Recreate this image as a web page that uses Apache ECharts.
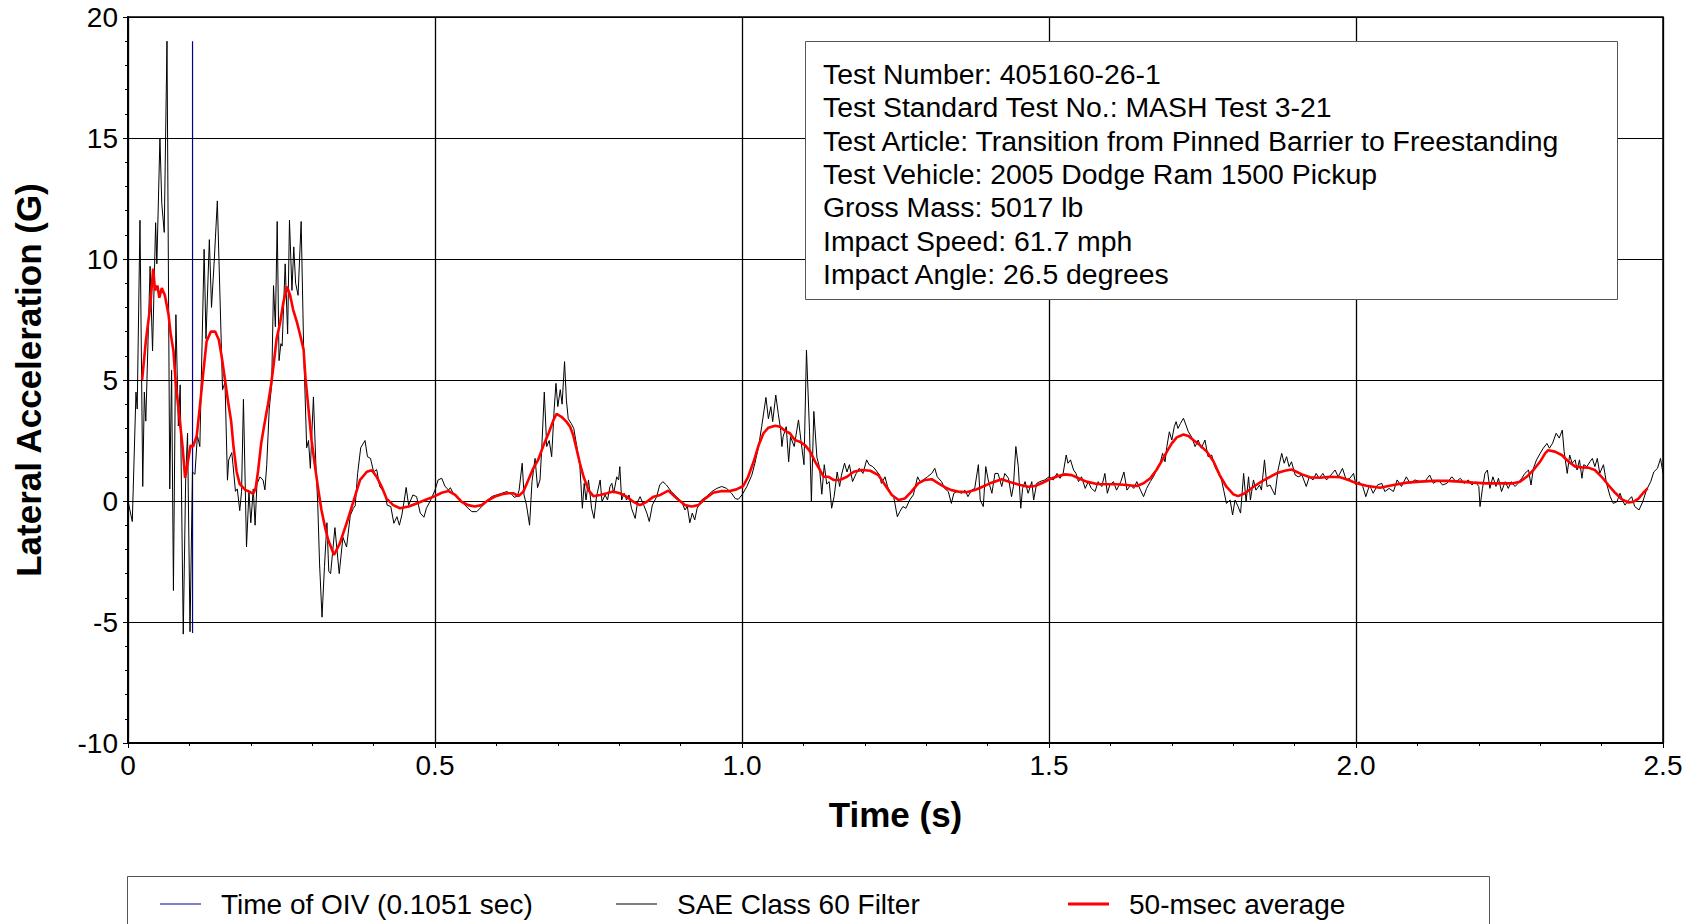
<!DOCTYPE html>
<html>
<head>
<meta charset="utf-8">
<title>Lateral Acceleration</title>
<script src="https://cdn.jsdelivr.net/npm/echarts@6/dist/echarts.min.js"></script>
<style>
  html, body { margin: 0; padding: 0; background: #fff; }
  #chart { width: 1692px; height: 924px; }
</style>
</head>
<body>
<div id="chart"></div>
<script>
const FONT = '"Liberation Sans", Arial, Helvetica, sans-serif'

const xTickLabels = ['0', '0.5', '1.0', '1.5', '2.0', '2.5']

const infoLines = [
  'Test Number: 405160-26-1',
  'Test Standard Test No.: MASH Test 3-21',
  'Test Article: Transition from Pinned Barrier to Freestanding',
  'Test Vehicle: 2005 Dodge Ram 1500 Pickup',
  'Gross Mass: 5017 lb',
  'Impact Speed: 61.7 mph',
  'Impact Angle: 26.5 degrees',
]

const seriesNames = ['Time of OIV (0.1051 sec)', 'SAE Class 60 Filter', '50-msec average']

// time of OIV marker, drawn from the lowest to the highest filtered value
const oivTime = 0.1051
const oivSpan = [-5.45, 19.0]

// SAE class 60 filtered lateral acceleration [time s, G]
const sae60 = [
  [0.000, 0.0], [0.007, -0.85], [0.013, 4.5], [0.015, 3.8], [0.0195, 11.6], [0.024, 0.6],
  [0.0266, 4.5], [0.029, 3.3], [0.036, 9.7], [0.040, 6.2], [0.045, 11.5], [0.047, 9.8],
  [0.052, 15.0], [0.055, 12.3], [0.059, 11.1], [0.0635, 19.0], [0.068, 0.5], [0.071, 5.4],
  [0.074, -3.7], [0.078, 7.7], [0.082, 3.1], [0.085, 4.8], [0.090, -5.5], [0.094, 1.0],
  [0.097, 2.8], [0.101, -5.4], [0.105, 1.2], [0.109, 1.1], [0.113, 2.7], [0.117, 2.25],
  [0.124, 10.4], [0.127, 6.7], [0.1325, 10.8], [0.136, 8.0], [0.1406, 10.0], [0.1455, 12.4],
  [0.154, 4.6], [0.158, 4.9], [0.162, 0.86], [0.164, 1.7], [0.169, 2.0], [0.171, 1.5],
  [0.175, 0.4], [0.178, 0.5], [0.182, -0.4], [0.185, 0.4], [0.188, 4.2], [0.193, -1.9],
  [0.197, 0.4], [0.200, -0.9], [0.204, 0.5], [0.207, -1.0], [0.210, 0.7], [0.215, 1.0],
  [0.220, 0.86], [0.223, 0.46], [0.226, 1.5], [0.230, 3.8], [0.234, 4.8], [0.237, 8.9],
  [0.240, 7.2], [0.243, 11.55], [0.246, 5.8], [0.249, 6.5], [0.251, 6.4], [0.256, 9.8],
  [0.260, 6.9], [0.263, 11.6], [0.267, 8.7], [0.270, 10.5], [0.273, 9.0], [0.277, 8.5],
  [0.282, 11.55], [0.286, 6.4], [0.291, 2.2], [0.294, 2.5], [0.297, 1.35], [0.302, 4.3],
  [0.306, 1.5], [0.309, -0.1], [0.312, -2.6], [0.316, -4.8], [0.320, -2.7], [0.324, -0.9],
  [0.327, -2.9], [0.330, -3.0], [0.337, -1.1], [0.344, -3.0], [0.350, -1.5], [0.356, -1.9],
  [0.362, -0.6], [0.367, -0.3], [0.370, -0.2], [0.374, 1.14], [0.379, 2.2], [0.386, 2.5],
  [0.390, 1.83], [0.395, 1.76], [0.400, 1.2], [0.405, 1.3], [0.410, 0.6], [0.419, 0.3],
  [0.422, -0.17], [0.428, -0.23], [0.433, -0.92], [0.438, -0.65], [0.442, -1.0], [0.446, -0.58],
  [0.450, 0.04], [0.453, 0.56], [0.457, -0.17], [0.464, 0.25], [0.470, 0.18], [0.476, -0.5],
  [0.482, -0.67], [0.486, -0.3], [0.493, 0.04], [0.500, 0.45], [0.505, 0.87], [0.511, 0.94],
  [0.516, 0.62], [0.522, 0.45], [0.525, 0.55], [0.531, 0.25], [0.538, 0.11], [0.546, -0.1],
  [0.554, -0.3], [0.560, -0.44], [0.568, -0.44], [0.576, -0.23], [0.584, -0.03], [0.592, 0.18],
  [0.600, 0.25], [0.609, 0.32], [0.617, 0.39], [0.625, 0.28], [0.629, 0.15], [0.634, 0.2],
  [0.637, 0.45], [0.642, 1.56], [0.645, 0.25], [0.649, -0.17], [0.654, -1.0], [0.658, 0.8],
  [0.663, 1.76], [0.667, 0.55], [0.671, 0.87], [0.674, 2.25], [0.678, 4.5], [0.682, 2.25],
  [0.686, 2.5], [0.690, 1.83], [0.694, 3.76], [0.697, 4.86], [0.700, 3.9], [0.704, 4.6],
  [0.707, 4.0], [0.711, 5.76], [0.714, 4.17], [0.717, 3.4], [0.722, 3.2], [0.726, 3.0],
  [0.731, 2.25], [0.736, 1.42], [0.740, -0.3], [0.743, 0.73], [0.746, 0.04], [0.750, 0.87],
  [0.755, -0.3], [0.759, -0.72], [0.763, 0.18], [0.769, 0.87], [0.772, -0.03], [0.777, 0.25],
  [0.781, 0.04], [0.785, 0.6], [0.788, 0.73], [0.791, 0.32], [0.796, 1.0], [0.799, 0.87],
  [0.801, 1.42], [0.804, 0.04], [0.808, 0.32], [0.812, 0.04], [0.816, 0.25], [0.820, -0.3],
  [0.826, -0.72], [0.830, -0.03], [0.834, 0.18], [0.840, -0.17], [0.845, -0.5], [0.849, -0.85],
  [0.854, -0.17], [0.861, 0.18], [0.866, 0.66], [0.871, 0.8], [0.877, 0.66], [0.885, 0.39],
  [0.893, 0.18], [0.902, -0.03], [0.907, -0.37], [0.911, -0.23], [0.915, -0.9], [0.919, -0.5],
  [0.923, -0.78], [0.927, -0.3], [0.934, 0.04], [0.942, 0.18], [0.951, 0.39], [0.959, 0.52],
  [0.967, 0.6], [0.975, 0.52], [0.983, 0.32], [0.989, 0.1], [0.994, 0.07], [1.000, 0.25],
  [1.008, 0.6], [1.016, 1.07], [1.021, 1.56], [1.027, 2.25], [1.032, 3.07], [1.036, 3.76],
  [1.039, 4.28], [1.043, 3.4], [1.047, 3.9], [1.050, 3.28], [1.055, 4.38], [1.059, 3.62],
  [1.063, 2.93], [1.065, 2.25], [1.067, 2.66], [1.072, 3.07], [1.076, 1.62], [1.079, 2.66],
  [1.085, 2.25], [1.092, 3.35], [1.096, 2.5], [1.101, 1.5], [1.105, 6.24], [1.110, 2.86],
  [1.113, -0.03], [1.117, 3.7], [1.122, 1.8], [1.126, 1.42], [1.130, 0.28], [1.134, 1.5],
  [1.138, 0.7], [1.142, 0.8], [1.146, -0.3], [1.150, 0.18], [1.155, 1.2], [1.159, 0.6],
  [1.162, 1.07], [1.167, 1.56], [1.171, 1.2], [1.175, 1.5], [1.180, 0.8], [1.186, 1.14],
  [1.191, 1.35], [1.197, 1.14], [1.203, 1.7], [1.207, 1.5], [1.213, 1.42], [1.218, 1.28],
  [1.224, 1.07], [1.227, 0.73], [1.233, 1.0], [1.237, 0.6], [1.242, 0.32], [1.247, 0.18],
  [1.253, -0.65], [1.257, -0.44], [1.262, -0.23], [1.267, -0.3], [1.273, 0.04], [1.279, 0.25],
  [1.286, 1.0], [1.290, 0.8], [1.295, 0.87], [1.302, 1.0], [1.309, 1.14], [1.314, 1.35],
  [1.318, 1.0], [1.325, 0.8], [1.330, 0.52], [1.336, 0.39], [1.341, -0.1], [1.345, 0.32],
  [1.350, 0.39], [1.358, 0.32], [1.363, 0.45], [1.368, 0.18], [1.374, 0.45], [1.379, 0.52],
  [1.385, 1.5], [1.388, 0.04], [1.393, -0.23], [1.397, 1.42], [1.401, 0.87], [1.407, 0.32],
  [1.412, 1.14], [1.417, 1.14], [1.423, 0.6], [1.428, 1.14], [1.434, 0.94], [1.439, 0.18],
  [1.442, 0.6], [1.446, 2.25], [1.450, 1.42], [1.454, -0.3], [1.457, 0.52], [1.461, 0.8],
  [1.466, 0.32], [1.472, 0.8], [1.475, 0.04], [1.480, 0.73], [1.485, 0.8], [1.493, 0.87],
  [1.500, 1.0], [1.507, 0.87], [1.513, 1.14], [1.518, 0.94], [1.523, 1.14], [1.528, 1.9],
  [1.531, 1.56], [1.535, 1.7], [1.540, 1.28], [1.544, 1.14], [1.548, 0.8], [1.553, 1.0],
  [1.559, 0.52], [1.564, 0.8], [1.569, 0.52], [1.575, 0.39], [1.580, 0.8], [1.586, 0.6],
  [1.591, 1.14], [1.595, 0.32], [1.599, 0.66], [1.605, 0.8], [1.610, 0.45], [1.617, 0.8],
  [1.622, 1.2], [1.627, 0.45], [1.633, 0.66], [1.638, 0.52], [1.643, 0.8], [1.649, 0.45],
  [1.654, 0.18], [1.659, 0.52], [1.665, 0.8], [1.670, 1.0], [1.675, 1.28], [1.681, 1.56],
  [1.685, 1.97], [1.689, 1.62], [1.692, 2.25], [1.696, 2.86], [1.700, 2.52], [1.704, 3.07],
  [1.707, 3.28], [1.710, 3.0], [1.714, 3.2], [1.719, 3.42], [1.723, 3.14], [1.727, 2.86],
  [1.732, 2.66], [1.738, 2.25], [1.743, 2.52], [1.748, 2.18], [1.754, 2.52], [1.759, 1.83],
  [1.765, 1.9], [1.770, 1.42], [1.776, 1.14], [1.781, 0.87], [1.785, 0.39], [1.789, -0.1],
  [1.795, 0.04], [1.799, -0.58], [1.803, 0.04], [1.808, -0.23], [1.812, -0.5], [1.817, 1.14],
  [1.821, -0.03], [1.825, 1.0], [1.828, 0.04], [1.833, 0.87], [1.837, 0.45], [1.843, 0.66],
  [1.846, 0.45], [1.851, 1.7], [1.855, 0.6], [1.860, 0.66], [1.864, 0.45], [1.868, 0.25],
  [1.873, 1.28], [1.879, 1.97], [1.883, 1.56], [1.887, 1.83], [1.891, 1.42], [1.895, 1.62],
  [1.901, 1.07], [1.906, 1.0], [1.912, 1.07], [1.919, 0.6], [1.924, 1.0], [1.930, 0.87],
  [1.935, 1.14], [1.940, 0.94], [1.946, 1.14], [1.952, 0.87], [1.959, 1.07], [1.966, 1.28],
  [1.971, 1.0], [1.978, 1.35], [1.984, 0.87], [1.990, 0.94], [1.996, 1.14], [2.000, 0.66],
  [2.005, 0.8], [2.011, 0.6], [2.016, 0.18], [2.022, 0.66], [2.028, 0.32], [2.035, 0.66],
  [2.042, 0.73], [2.047, 0.39], [2.054, 0.52], [2.061, 0.39], [2.067, 0.87], [2.074, 0.6],
  [2.082, 1.0], [2.088, 0.73], [2.096, 0.87], [2.104, 0.8], [2.112, 0.8], [2.120, 1.07],
  [2.126, 0.73], [2.134, 0.87], [2.141, 0.66], [2.148, 0.73], [2.156, 1.0], [2.163, 0.8],
  [2.170, 0.94], [2.176, 0.73], [2.183, 0.87], [2.189, 0.66], [2.194, 0.8], [2.200, 0.6],
  [2.202, -0.23], [2.206, 0.52], [2.210, 1.14], [2.214, 1.28], [2.218, 0.52], [2.223, 1.0],
  [2.228, 0.6], [2.232, 0.94], [2.237, 0.39], [2.243, 0.8], [2.248, 0.52], [2.253, 0.8],
  [2.259, 0.6], [2.264, 0.73], [2.270, 0.94], [2.275, 1.14], [2.281, 1.28], [2.285, 0.66],
  [2.289, 1.35], [2.294, 1.7], [2.300, 1.97], [2.305, 2.18], [2.311, 2.38], [2.315, 2.18],
  [2.320, 2.38], [2.326, 2.8], [2.331, 2.6], [2.336, 2.93], [2.339, 2.04], [2.344, 1.14],
  [2.348, 1.9], [2.352, 1.56], [2.357, 1.7], [2.360, 1.28], [2.364, 1.7], [2.368, 0.94],
  [2.371, 1.5], [2.376, 1.42], [2.381, 1.62], [2.385, 1.76], [2.389, 1.42], [2.393, 1.76],
  [2.397, 1.14], [2.403, 1.5], [2.408, 0.73], [2.414, 0.18], [2.419, -0.1], [2.425, -0.03],
  [2.430, 0.32], [2.434, 0.04], [2.438, -0.17], [2.444, 0.04], [2.449, 0.18], [2.454, -0.23],
  [2.461, -0.37], [2.467, -0.03], [2.473, 0.45], [2.480, 0.8], [2.485, 1.2], [2.491, 1.35],
  [2.496, 1.76], [2.500, 1.14],
]

// 50 msec moving average [time s, G]
const avg50 = [
  [0.023, 5.0], [0.029, 6.6], [0.036, 8.0], [0.041, 9.6], [0.044, 8.7], [0.048, 8.9],
  [0.051, 8.4], [0.055, 8.8], [0.060, 8.5], [0.066, 7.7], [0.069, 7.0], [0.074, 6.2],
  [0.078, 4.8], [0.084, 3.4], [0.089, 2.2], [0.093, 0.95], [0.098, 1.7], [0.102, 2.3],
  [0.106, 2.25], [0.112, 2.7], [0.117, 3.9], [0.123, 5.4], [0.128, 6.6], [0.135, 7.0],
  [0.142, 7.0], [0.148, 6.65], [0.153, 5.9], [0.158, 5.0], [0.163, 4.1], [0.168, 3.3],
  [0.172, 2.2], [0.177, 1.2], [0.182, 0.7], [0.191, 0.46], [0.199, 0.37], [0.204, 0.3],
  [0.208, 0.54], [0.212, 1.27], [0.217, 2.4], [0.222, 3.15], [0.228, 4.0], [0.233, 4.8],
  [0.237, 5.6], [0.242, 6.7], [0.248, 7.4], [0.253, 8.2], [0.259, 8.86], [0.264, 8.5],
  [0.269, 7.9], [0.275, 7.4], [0.280, 6.9], [0.286, 6.25], [0.289, 5.1], [0.294, 3.8],
  [0.299, 2.5], [0.305, 1.35], [0.310, 0.46], [0.315, -0.36], [0.321, -1.1], [0.326, -1.6],
  [0.3355, -2.23], [0.345, -1.75], [0.356, -0.92], [0.367, -0.03], [0.378, 0.87], [0.389, 1.21],
  [0.397, 1.27], [0.405, 1.0], [0.413, 0.6], [0.421, 0.1], [0.432, -0.17], [0.443, -0.3],
  [0.457, -0.23], [0.470, -0.1], [0.484, 0.04], [0.498, 0.18], [0.511, 0.34], [0.522, 0.41],
  [0.533, 0.25], [0.543, -0.03], [0.554, -0.17], [0.565, -0.23], [0.576, -0.17], [0.587, 0.04],
  [0.598, 0.18], [0.609, 0.28], [0.619, 0.32], [0.628, 0.32], [0.636, 0.2], [0.644, 0.39],
  [0.652, 0.87], [0.660, 1.35], [0.668, 1.7], [0.676, 2.25], [0.685, 2.8], [0.693, 3.35],
  [0.698, 3.6], [0.706, 3.48], [0.714, 3.28], [0.720, 3.07], [0.725, 2.73], [0.731, 2.1],
  [0.736, 1.56], [0.742, 1.0], [0.750, 0.45], [0.758, 0.2], [0.769, 0.25], [0.780, 0.32],
  [0.790, 0.39], [0.801, 0.32], [0.812, 0.18], [0.823, -0.03], [0.834, -0.17], [0.845, -0.03],
  [0.856, 0.18], [0.867, 0.25], [0.880, 0.43], [0.894, 0.1], [0.907, -0.17], [0.918, -0.23],
  [0.929, -0.17], [0.940, 0.1], [0.953, 0.34], [0.967, 0.41], [0.980, 0.41], [0.991, 0.48],
  [1.002, 0.62], [1.010, 1.0], [1.019, 1.63], [1.027, 2.3], [1.035, 2.8], [1.043, 3.03],
  [1.054, 3.11], [1.062, 3.07], [1.070, 2.9], [1.078, 2.8], [1.086, 2.52], [1.094, 2.45],
  [1.103, 2.3], [1.111, 2.04], [1.119, 1.63], [1.127, 1.28], [1.133, 1.0], [1.141, 1.0],
  [1.149, 0.87], [1.160, 0.87], [1.171, 1.0], [1.182, 1.21], [1.195, 1.28], [1.209, 1.25],
  [1.222, 1.07], [1.233, 0.66], [1.244, 0.25], [1.255, 0.04], [1.265, 0.1], [1.276, 0.39],
  [1.287, 0.73], [1.298, 0.87], [1.309, 0.9], [1.320, 0.73], [1.331, 0.56], [1.341, 0.45],
  [1.352, 0.39], [1.366, 0.36], [1.379, 0.45], [1.388, 0.55], [1.404, 0.73], [1.423, 0.9],
  [1.439, 0.76], [1.453, 0.66], [1.466, 0.59], [1.477, 0.62], [1.488, 0.73], [1.501, 0.9],
  [1.515, 1.03], [1.526, 1.1], [1.537, 1.07], [1.548, 0.94], [1.561, 0.8], [1.578, 0.7],
  [1.594, 0.69], [1.610, 0.69], [1.626, 0.66], [1.643, 0.62], [1.654, 0.73], [1.665, 0.94],
  [1.675, 1.28], [1.683, 1.63], [1.692, 2.04], [1.700, 2.38], [1.708, 2.63], [1.719, 2.75],
  [1.727, 2.69], [1.735, 2.52], [1.746, 2.3], [1.757, 2.04], [1.768, 1.63], [1.778, 1.07],
  [1.789, 0.59], [1.800, 0.28], [1.808, 0.2], [1.819, 0.32], [1.833, 0.59], [1.846, 0.8],
  [1.860, 1.0], [1.873, 1.17], [1.884, 1.25], [1.895, 1.3], [1.903, 1.21], [1.912, 1.1],
  [1.925, 0.98], [1.941, 0.96], [1.958, 1.0], [1.974, 0.98], [1.988, 0.87], [2.001, 0.73],
  [2.017, 0.63], [2.039, 0.55], [2.061, 0.66], [2.083, 0.76], [2.104, 0.8], [2.126, 0.83],
  [2.148, 0.83], [2.170, 0.8], [2.191, 0.76], [2.213, 0.73], [2.235, 0.73], [2.256, 0.73],
  [2.267, 0.8], [2.278, 1.0], [2.289, 1.28], [2.300, 1.63], [2.308, 1.97], [2.313, 2.1],
  [2.324, 2.04], [2.335, 1.9], [2.346, 1.63], [2.357, 1.42], [2.368, 1.39], [2.378, 1.38],
  [2.389, 1.28], [2.400, 1.0], [2.411, 0.66], [2.422, 0.34], [2.433, 0.07], [2.444, -0.06],
  [2.452, -0.03], [2.460, 0.1], [2.468, 0.34], [2.475, 0.52],
]

const chart = echarts.init(document.getElementById('chart'), null, { renderer: 'svg' })

const axisText = { fontSize: 28, color: '#000', fontFamily: FONT }
const titleText = { fontSize: 35, fontWeight: 'bold', color: '#000', fontFamily: FONT }

function legendFor(name, left, color, height) {
  return {
    data: [name],
    left,
    top: 890,
    padding: 0,
    icon: 'rect',
    itemWidth: 41,
    itemHeight: height,
    itemStyle: { color },
    selectedMode: false,
    textStyle: { ...axisText, padding: [0, 0, 0, 15] },
  }
}

chart.setOption({
  backgroundColor: '#fff',
  animation: false,
  grid: {
    left: 128, top: 17, width: 1535, height: 726,
    show: true, borderColor: '#000', borderWidth: 1.5,
  },
  xAxis: {
    type: 'value',
    min: 0,
    max: 2.5,
    interval: 0.5,
    name: 'Time (s)',
    nameLocation: 'middle',
    nameGap: 54,
    nameTextStyle: titleText,
    axisLine: { onZero: false, lineStyle: { color: '#000', width: 2 } },
    axisTick: { show: true, length: 5, lineStyle: { color: '#000' } },
    minorTick: { show: true, splitNumber: 5, length: 3, lineStyle: { color: '#000' } },
    splitLine: { show: true, lineStyle: { color: '#000', width: 1.3 } },
    axisLabel: {
      ...axisText,
      margin: 8,
      showMinLabel: true,
      showMaxLabel: true,
      formatter: v => xTickLabels[Math.round(v / 0.5)],
    },
  },
  yAxis: {
    type: 'value',
    min: -10,
    max: 20,
    interval: 5,
    name: 'Lateral Acceleration (G)',
    nameLocation: 'middle',
    nameGap: 82,
    nameTextStyle: titleText,
    axisLine: { show: true, lineStyle: { color: '#000', width: 2 } },
    axisTick: { show: true, length: 5, lineStyle: { color: '#000' } },
    minorTick: { show: true, splitNumber: 5, length: 3, lineStyle: { color: '#000' } },
    splitLine: { show: true, lineStyle: { color: '#000', width: 1 } },
    axisLabel: { ...axisText, margin: 10 },
  },
  legend: [
    legendFor(seriesNames[0], 160, '#00008b', 1),
    legendFor(seriesNames[1], 616, '#000', 1),
    legendFor(seriesNames[2], 1068, '#ff0000', 3),
  ],
  graphic: [
    {
      type: 'rect',
      z: 1,
      shape: { x: 127.5, y: 876.5, width: 1362, height: 70 },
      style: { fill: '#fff', stroke: '#555', lineWidth: 1 },
    },
    {
      type: 'rect',
      z: 100,
      shape: { x: 805.5, y: 41.5, width: 812, height: 258 },
      style: { fill: '#fff', stroke: '#555', lineWidth: 1 },
    },
    {
      type: 'text',
      z: 101,
      x: 823,
      y: 57,
      style: {
        text: infoLines.join('\n'),
        fontSize: 28.4,
        fontFamily: FONT,
        lineHeight: 33.4,
        fill: '#000',
        verticalAlign: 'top',
      },
    },
  ],
  series: [
    {
      name: seriesNames[0],
      type: 'line',
      symbol: 'none',
      data: [[oivTime, oivSpan[0]], [oivTime, oivSpan[1]]],
      lineStyle: { color: '#00008b', width: 1.2 },
      itemStyle: { color: '#00008b' },
    },
    {
      name: seriesNames[1],
      type: 'line',
      symbol: 'none',
      data: sae60,
      lineStyle: { color: '#000', width: 1 },
      itemStyle: { color: '#000' },
    },
    {
      name: seriesNames[2],
      type: 'line',
      symbol: 'none',
      data: avg50,
      lineStyle: { color: '#ff0000', width: 2.6 },
      itemStyle: { color: '#ff0000' },
    },
  ],
})
</script>
</body>
</html>
